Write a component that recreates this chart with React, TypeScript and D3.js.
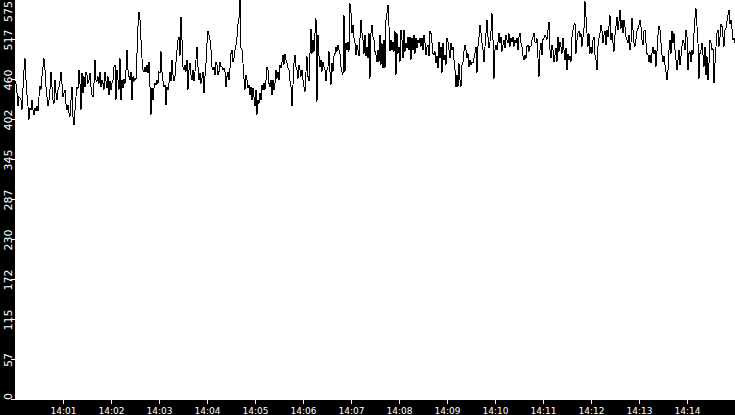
import React from 'react';
import * as d3 from 'd3';

const WIDTH = 735;
const HEIGHT = 415;
const PLOT_LEFT = 15;
const PLOT_BOTTOM = 400;

// samples every 1.25 s from 14:00:00 to 14:15:00
const START = new Date(2000, 0, 1, 14, 0, 0);
const END = new Date(2000, 0, 1, 14, 15, 0);
const STEP_MS = 1250;

const seg1400 = [
  458, 454, 441, 422, 436, 434, 431, 417, 448, 474,
  491, 460, 438, 422, 403, 419, 417, 431, 417, 410,
  419, 415, 422, 415, 436, 451, 446, 465, 479, 491,
  474, 450, 436, 422, 431, 446, 472, 450, 431, 426,
  460, 441, 431, 446, 450, 458, 472, 455, 436, 441,
  446, 426, 417, 424, 412, 407, 431, 450, 407, 395,
  417, 436, 450, 448, 474, 455, 417, 470, 441, 465,
  450, 472, 467, 455, 460, 470, 450, 438, 436, 455,
  489, 460, 458, 465, 455, 472, 450, 460, 455, 446,
  472, 458, 448, 465, 438, 458, 446, 455, 460, 479,
  482, 431, 474, 460,
];
const seg1402 = [
  446, 491, 431, 460, 448, 462, 455, 474, 503,
  474, 465, 460, 472, 431, 465, 458, 462, 460, 498,
  537, 558, 546, 518, 491, 474, 472, 479, 472, 482,
  470, 486, 450, 410, 448, 431, 448, 455, 453, 460,
  455, 472, 470, 501, 472, 458, 450, 453, 424, 450,
  446, 455, 472, 458, 489, 467, 458, 465, 486, 503,
  518, 522, 494, 551, 518, 479, 474, 482, 472, 489,
  446, 474, 484, 467, 460, 474, 458, 472, 489, 508,
  479, 460, 470, 455, 462, 472, 441, 465, 484, 513,
  530, 525, 518, 503, 479, 474, 479, 467, 486, 482,
  467, 472, 486, 479,
];
const seg1404 = [
  479, 474, 477, 472, 450, 465, 472, 460, 477,
  498, 503, 486, 491, 503, 510, 522, 541, 549, 575,
  506, 503, 484, 462, 446, 467, 460, 448, 453, 438,
  450, 431, 448, 436, 422, 446, 410, 431, 426, 441,
  431, 453, 446, 455, 446, 460, 479, 474, 455, 450,
  460, 438, 460, 446, 455, 474, 462, 472, 460, 482,
  477, 486, 496, 482, 498, 489, 484, 477, 474, 458,
  450, 422, 453, 484, 496, 479, 474, 462, 482, 474,
  465, 474, 460, 450, 443, 472, 494, 465, 458, 498,
  534, 498, 518, 501, 527, 549, 429, 525, 494, 479,
  489, 472, 486, 479,
];
const seg1406 = [
  474, 458, 474, 479, 501, 472, 453, 484, 472,
  494, 498, 508, 501, 510, 503, 498, 479, 472, 467,
  553, 472, 513, 503, 515, 501, 570, 556, 527, 539,
  520, 513, 496, 510, 503, 494, 520, 546, 527, 518,
  498, 525, 494, 508, 491, 527, 462, 527, 539, 522,
  518, 501, 496, 486, 503, 486, 525, 482, 513, 477,
  518, 477, 546, 556, 568, 537, 501, 518, 503, 515,
  501, 530, 467, 527, 498, 508, 486, 532, 518, 491,
  532, 501, 513, 506, 522, 503, 522, 489, 520, 503,
  525, 498, 520, 506, 518, 513, 520, 508, 520, 503,
  525, 513, 496, 508,
];
const seg1408 = [
  510, 494, 530, 527, 513, 498, 496, 501, 484,
  494, 477, 515, 491, 508, 470, 513, 489, 496, 482,
  520, 515, 503, 491, 513, 503, 508, 489, 474, 450,
  467, 450, 484, 460, 450, 482, 486, 501, 510, 503,
  491, 498, 479, 489, 482, 486, 484, 491, 498, 508,
  470, 508, 522, 539, 527, 513, 503, 486, 508, 527,
  546, 522, 506, 515, 530, 556, 518, 462, 503, 510,
  503, 515, 527, 513, 522, 501, 510, 518, 506, 525,
  518, 513, 527, 508, 520, 515, 522, 508, 518, 513,
  520, 503, 522, 527, 513, 508, 494, 489, 496, 491,
  508, 510, 501, 508,
];
const seg1410 = [
  508, 518, 522, 527, 515, 513, 520, 491, 465,
  503, 513, 496, 518, 520, 525, 522, 518, 532, 544,
  503, 491, 510, 503, 486, 496, 506, 486, 522, 501,
  515, 508, 498, 520, 503, 489, 506, 474, 498, 489,
  494, 486, 522, 532, 539, 541, 498, 518, 527, 530,
  522, 527, 508, 522, 534, 573, 551, 527, 508, 527,
  498, 508, 498, 518, 522, 496, 489, 474, 508, 520,
  527, 539, 530, 513, 525, 530, 510, 532, 522, 537,
  553, 518, 527, 513, 501, 525, 537, 551, 532, 544,
  561, 534, 546, 527, 546, 537, 522, 518, 513, 525,
  503, 513, 549, 532,
];
const seg1412 = [
  513, 508, 518, 530, 534, 539, 546, 537, 518,
  510, 530, 532, 513, 498, 496, 486, 496, 484, 498,
  508, 498, 503, 479, 501, 525, 537, 532, 513, 496,
  486, 494, 482, 472, 460, 474, 503, 518, 498, 530,
  513, 527, 503, 489, 474, 489, 503, 482, 494, 508,
  518, 513, 503, 532, 522, 474, 498, 501, 486, 503,
  496, 527, 549, 563, 537, 513, 462, 498, 503, 513,
  496, 479, 508, 467, 494, 460, 484, 518, 513, 503,
  506, 455, 484, 508, 527, 532, 508, 522, 541, 537,
  522, 508, 532, 534, 544, 553, 561, 541, 546, 534,
  518, 520, 513,
];

const values = [...seg1400, ...seg1402, ...seg1404, ...seg1406, ...seg1408, ...seg1410, ...seg1412];

const Y_MAX = 575;
const yTicks = [0, 57.5, 115, 172.5, 230, 287.5, 345, 402.5, 460, 517.5, 575];
const xTickMinutes = [1, 2, 3, 4, 5, 6, 7, 8, 9, 10, 11, 12, 13, 14];

const FONT = "'DejaVu Sans', sans-serif";

export default function App() {
  React.useEffect(() => {
    document.body.style.margin = '0';
  }, []);

  const x = d3.scaleTime().domain([START, END]).range([PLOT_LEFT, WIDTH]);
  const y = d3.scaleLinear().domain([0, Y_MAX]).range([PLOT_BOTTOM, 0]);

  const points = values.map((v, i) => ({
    t: new Date(START.getTime() + i * STEP_MS),
    v,
  }));

  const line = d3.line<{ t: Date; v: number }>()
    .x(d => x(d.t))
    .y(d => y(d.v));

  const yFontSize = 11;
  const charW = yFontSize * 0.636;

  return (
    <svg
      width={WIDTH}
      height={HEIGHT}
      style={{ position: 'absolute', left: 0, top: 0, display: 'block' }}
    >
      <rect x={0} y={0} width={WIDTH} height={HEIGHT} fill="#000" />
      <rect x={PLOT_LEFT} y={0} width={WIDTH - PLOT_LEFT} height={PLOT_BOTTOM} fill="#fff" />

      <path
        d={line(points) || ''}
        fill="none"
        stroke="#000"
        strokeWidth={1}
        shapeRendering="crispEdges"
      />

      {yTicks.map(t => {
        const ty = y(t);
        const label = String(Math.floor(t));
        const w = label.length * charW;
        const cy = Math.min(Math.max(ty, w / 2 + 1), PLOT_BOTTOM - w / 2);
        return (
          <g key={t}>
            <line
              x1={11}
              x2={PLOT_LEFT}
              y1={Math.round(ty) - 0.5}
              y2={Math.round(ty) - 0.5}
              stroke="#fff"
              shapeRendering="crispEdges"
            />
            <text
              transform={`translate(11.5, ${cy}) rotate(-90)`}
              textAnchor="middle"
              fill="#fff"
              fontFamily={FONT}
              fontSize={yFontSize}
            >
              {label}
            </text>
          </g>
        );
      })}

      {xTickMinutes.map(m => {
        const t = new Date(START.getTime() + m * 60000);
        const tx = Math.round(x(t)) + 0.5;
        return (
          <g key={m}>
            <line
              x1={tx}
              x2={tx}
              y1={PLOT_BOTTOM}
              y2={PLOT_BOTTOM + 4}
              stroke="#fff"
              shapeRendering="crispEdges"
            />
            <text
              x={tx}
              y={414}
              textAnchor="middle"
              fill="#fff"
              fontFamily={FONT}
              fontSize={9}
            >
              {d3.timeFormat('%H:%M')(t)}
            </text>
          </g>
        );
      })}
    </svg>
  );
}
